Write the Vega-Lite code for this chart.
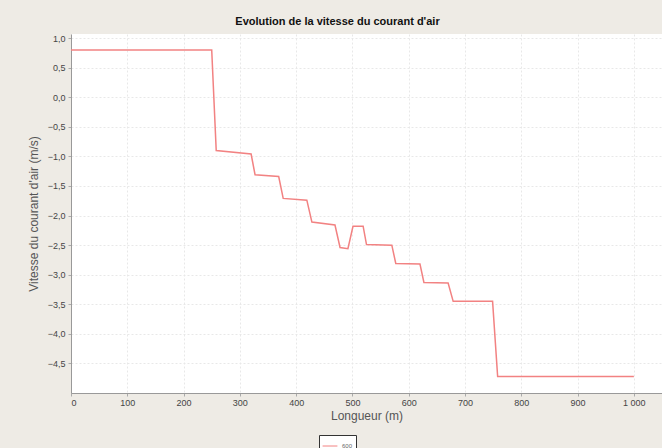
{
  "$schema": "https://vega.github.io/schema/vega-lite/v6.json",
  "autosize": {"type": "none"},
  "width": 591,
  "height": 359,
  "padding": {"left": 71, "top": 34, "right": 0, "bottom": 55},
  "background": "#eeebe5",
  "title": {
    "text": "Evolution de la vitesse du courant d'air",
    "font": "Liberation Sans",
    "fontSize": 11,
    "fontWeight": "bold",
    "color": "#111111",
    "anchor": "middle",
    "dx": -29,
    "offset": 7
  },
  "data": {
    "values": [
      {"x": 0, "v": 0.8, "s": "600"},
      {"x": 250, "v": 0.8, "s": "600"},
      {"x": 258, "v": -0.9, "s": "600"},
      {"x": 320, "v": -0.96, "s": "600"},
      {"x": 327, "v": -1.31, "s": "600"},
      {"x": 369, "v": -1.34, "s": "600"},
      {"x": 377, "v": -1.71, "s": "600"},
      {"x": 419, "v": -1.74, "s": "600"},
      {"x": 428, "v": -2.11, "s": "600"},
      {"x": 469, "v": -2.16, "s": "600"},
      {"x": 478, "v": -2.54, "s": "600"},
      {"x": 492, "v": -2.56, "s": "600"},
      {"x": 501, "v": -2.18, "s": "600"},
      {"x": 519, "v": -2.18, "s": "600"},
      {"x": 525, "v": -2.49, "s": "600"},
      {"x": 570, "v": -2.5, "s": "600"},
      {"x": 577, "v": -2.81, "s": "600"},
      {"x": 620, "v": -2.82, "s": "600"},
      {"x": 627, "v": -3.13, "s": "600"},
      {"x": 670, "v": -3.14, "s": "600"},
      {"x": 679, "v": -3.45, "s": "600"},
      {"x": 749, "v": -3.45, "s": "600"},
      {"x": 758, "v": -4.72, "s": "600"},
      {"x": 1000, "v": -4.72, "s": "600"}
    ]
  },
  "mark": {"type": "line", "strokeWidth": 1.5, "interpolate": "linear"},
  "encoding": {
    "x": {
      "field": "x",
      "type": "quantitative",
      "scale": {"domain": [0, 1050], "nice": false, "zero": false},
      "axis": {
        "title": "Longueur (m)",
        "values": [0, 100, 200, 300, 400, 500, 600, 700, 800, 900, 1000],
        "labelExpr": "replace(format(datum.value, ','), ',', ' ')",
        "labelPadding": 2,
        "titlePadding": 3
      }
    },
    "y": {
      "field": "v",
      "type": "quantitative",
      "scale": {"domain": [-5.0, 1.07], "nice": false, "zero": false},
      "axis": {
        "title": "Vitesse du courant d'air (m/s)",
        "values": [-4.5, -4, -3.5, -3, -2.5, -2, -1.5, -1, -0.5, 0, 0.5, 1],
        "labelExpr": "replace(format(datum.value, '.1f'), '.', ',')",
        "labelPadding": 3,
        "titlePadding": 7
      }
    },
    "color": {
      "field": "s",
      "type": "nominal",
      "scale": {"range": ["#f28282"]},
      "legend": {
        "title": null,
        "orient": "none",
        "legendX": 248,
        "legendY": 401,
        "symbolType": "stroke",
        "symbolSize": 220,
        "symbolStrokeWidth": 1,
        "labelFontSize": 6,
        "labelFont": "Liberation Sans",
        "labelColor": "#666666",
        "strokeColor": "#333333",
        "fillColor": "#ffffff",
        "padding": 3
      }
    }
  },
  "config": {
    "view": {"fill": "#ffffff", "stroke": null},
    "axis": {
      "labelFont": "Liberation Sans",
      "labelFontSize": 9,
      "labelColor": "#444444",
      "titleFont": "Liberation Sans",
      "titleFontSize": 12,
      "titleFontWeight": "normal",
      "titleColor": "#555555",
      "domainColor": "#999999",
      "tickColor": "#aaaaaa",
      "tickSize": 3,
      "gridColor": "#e8e8e8",
      "gridDash": [2, 2],
      "gridWidth": 1
    }
  }
}
